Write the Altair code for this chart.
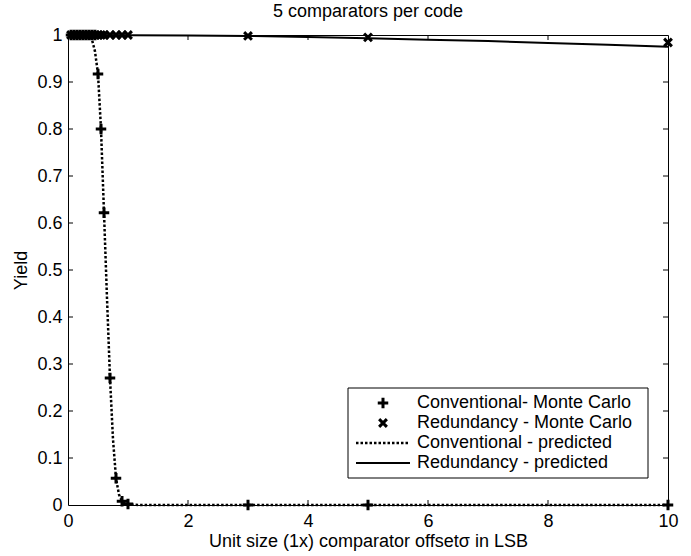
import altair as alt
import pandas as pd

# Monte Carlo sample points: unit comparator offset sigma (LSB) and yield
mc_sigma = [0.05, 0.1, 0.15, 0.2, 0.25, 0.3, 0.35, 0.4, 0.45, 0.5, 0.55, 0.6,
            0.7, 0.8, 0.9, 1.0, 3, 5, 10]
conv_mc_yield = [1, 1, 1, 1, 1, 1, 1, 1, 1, 0.917, 0.80, 0.622,
                 0.27, 0.057, 0.008, 0.002, 0, 0, 0]
red_mc_yield = [1, 1, 1, 1, 1, 1, 1, 1, 1, 1, 1, 1,
                1, 1, 1, 1, 0.998, 0.995, 0.984]

# Predicted yield curves
conv_pred_sigma = [0, 0.1, 0.2, 0.3, 0.35, 0.4, 0.45, 0.5, 0.55, 0.6, 0.65,
                   0.7, 0.75, 0.8, 0.85, 0.9, 0.95, 1.0, 1.2, 1.5, 2, 3, 4,
                   5, 6, 7, 8, 9, 10]
conv_pred_yield = [1, 1, 1, 1, 0.998, 0.99, 0.965, 0.917, 0.80, 0.622, 0.44,
                   0.27, 0.14, 0.057, 0.022, 0.008, 0.003, 0.001, 0, 0, 0, 0,
                   0, 0, 0, 0, 0, 0, 0]
red_pred_sigma = [0, 1, 2, 3, 4, 5, 6, 7, 8, 9, 10]
red_pred_yield = [1.0, 0.9995, 0.999, 0.998, 0.996, 0.993, 0.990, 0.987,
                  0.983, 0.979, 0.975]

# Axis ticks
x_ticks = [0, 2, 4, 6, 8, 10]
y_ticks = [0, 0.1, 0.2, 0.3, 0.4, 0.5, 0.6, 0.7, 0.8, 0.9, 1]

title_text = "5 comparators per code"
legend_labels = ["Conventional- Monte Carlo", "Redundancy - Monte Carlo",
                 "Conventional - predicted", "Redundancy - predicted"]

FONT = "Liberation Sans"
FS = 18
W, H = 600, 470
PLUS = "M-1,0L1,0M0,-1L0,1"
CROSS = "M-1,-1L1,1M-1,1L1,-1"

conv_mc = pd.DataFrame({"sigma": mc_sigma, "yield": conv_mc_yield})
red_mc = pd.DataFrame({"sigma": mc_sigma, "yield": red_mc_yield})
conv_pred = pd.DataFrame({"sigma": conv_pred_sigma, "yield": conv_pred_yield})
red_pred = pd.DataFrame({"sigma": red_pred_sigma, "yield": red_pred_yield})

xs = alt.Scale(domain=[0, 10], nice=False)
ys = alt.Scale(domain=[0, 1], nice=False)

x_enc = alt.X("sigma:Q", scale=xs,
              axis=alt.Axis(values=x_ticks, format="d", ticks=False, domain=False,
                            grid=False, labelPadding=7, titlePadding=2,
                            labelFlush=False, labelOverlap=False,
                            title="Unit size (1x) comparator offsetσ in LSB"))
y_enc = alt.Y("yield:Q", scale=ys,
              axis=alt.Axis(values=y_ticks, format="~g", ticks=False, domain=False,
                            grid=False, labelPadding=6, titlePadding=6,
                            labelFlush=False, labelOverlap=False,
                            title="Yield"))

conv_line = alt.Chart(conv_pred).mark_line(
    color="black", strokeWidth=2.5, strokeDash=[2.5, 2]).encode(x=x_enc, y=y_enc)
red_line = alt.Chart(red_pred).mark_line(
    color="black", strokeWidth=2).encode(x="sigma:Q", y="yield:Q")
conv_pts = alt.Chart(conv_mc).mark_point(
    shape=PLUS, filled=False, stroke="black", strokeWidth=3, size=110, opacity=1
).encode(x="sigma:Q", y="yield:Q")
red_pts = alt.Chart(red_mc).mark_point(
    shape=CROSS, filled=False, stroke="black", strokeWidth=3, size=60, opacity=1
).encode(x="sigma:Q", y="yield:Q")

# Inward tick marks on all four sides of the box
xt = pd.DataFrame({"sigma": x_ticks[1:-1]})
yt = pd.DataFrame({"yield": y_ticks[1:-1]})
TL = 5
tick_b = alt.Chart(xt).mark_rule(color="black").encode(
    x="sigma:Q", y=alt.value(H), y2=alt.value(H - TL))
tick_t = alt.Chart(xt).mark_rule(color="black").encode(
    x="sigma:Q", y=alt.value(0), y2=alt.value(TL))
tick_l = alt.Chart(yt).mark_rule(color="black").encode(
    y="yield:Q", x=alt.value(0), x2=alt.value(TL))
tick_r = alt.Chart(yt).mark_rule(color="black").encode(
    y="yield:Q", x=alt.value(W), x2=alt.value(W - TL))

one = alt.Data(values=[{}])

# Title above the box, centred on the plot area
title = alt.Chart(one).mark_text(
    align="center", baseline="alphabetic", font=FONT, fontSize=FS, color="black"
).encode(x=alt.value(W / 2), y=alt.value(-18), text=alt.value(title_text))

# Legend box drawn inside the plot area
LX0, LX1, LY0, LY1 = 280, 580, 353, 443
row_y = [368, 388, 408, 428]
box = alt.Chart(one).mark_rect(fill="white", stroke="black", strokeWidth=1).encode(
    x=alt.value(LX0), x2=alt.value(LX1), y=alt.value(LY0), y2=alt.value(LY1))
leg_layers = [box]
for lab, yy in zip(legend_labels, row_y):
    leg_layers.append(alt.Chart(one).mark_text(
        align="left", baseline="middle", font=FONT, fontSize=FS, color="black"
    ).encode(x=alt.value(349), y=alt.value(yy), text=alt.value(lab)))
leg_layers.append(alt.Chart(one).mark_point(
    shape=PLUS, filled=False, stroke="black", strokeWidth=3, size=110, opacity=1
).encode(x=alt.value(315), y=alt.value(row_y[0])))
leg_layers.append(alt.Chart(one).mark_point(
    shape=CROSS, filled=False, stroke="black", strokeWidth=3, size=60, opacity=1
).encode(x=alt.value(315), y=alt.value(row_y[1])))
leg_layers.append(alt.Chart(one).mark_rule(
    color="black", strokeWidth=2.5, strokeDash=[2.5, 2]
).encode(x=alt.value(288), x2=alt.value(342), y=alt.value(row_y[2])))
leg_layers.append(alt.Chart(one).mark_rule(
    color="black", strokeWidth=2
).encode(x=alt.value(288), x2=alt.value(342), y=alt.value(row_y[3])))

chart = alt.layer(
    conv_line, red_line, conv_pts, red_pts, tick_b, tick_t, tick_l, tick_r,
    title, *leg_layers
).properties(
    width=W, height=H,
    padding={"left": 68, "top": 35, "right": 23, "bottom": 51},
    autosize=alt.AutoSizeParams(type="none"),
    background="white",
).configure_view(
    stroke="black", strokeWidth=1
).configure_axis(
    labelFont=FONT, labelFontSize=FS, labelColor="black",
    titleFont=FONT, titleFontSize=FS, titleColor="black", titleFontWeight="normal"
)

chart.save("out.html", embed_options={"renderer": "svg", "actions": False})
